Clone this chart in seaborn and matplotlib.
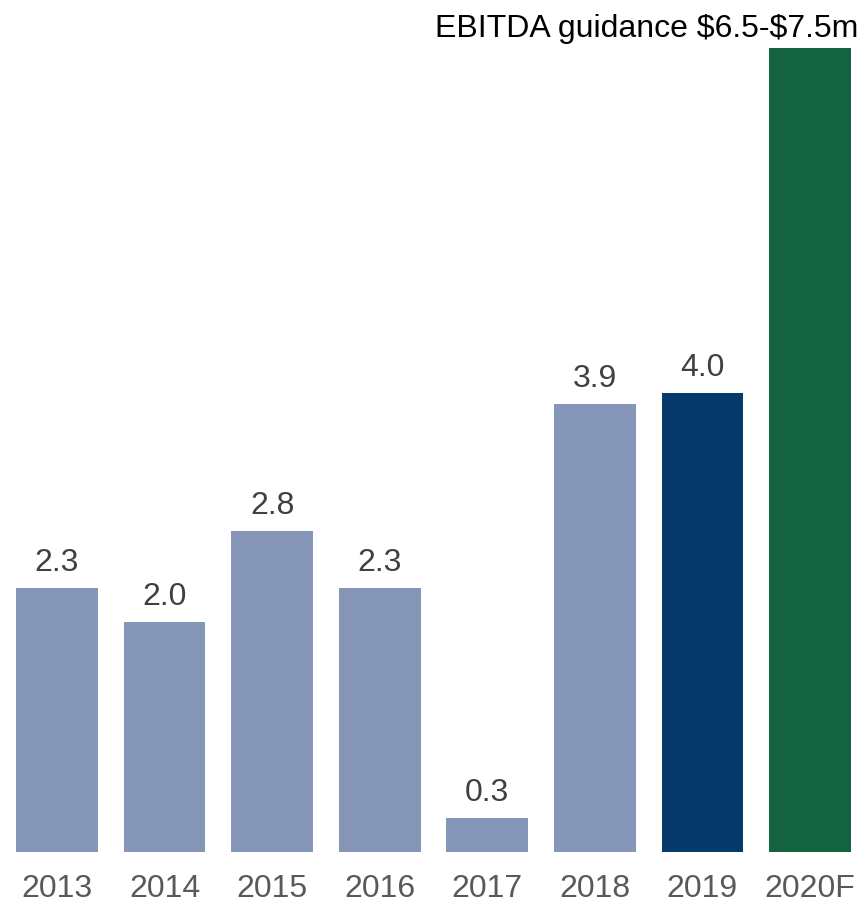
import matplotlib
matplotlib.use("Agg")
import matplotlib.pyplot as plt
import seaborn as sns
import pandas as pd

sns.set_theme(style="white")
plt.rcParams["font.family"] = ["Liberation Sans", "DejaVu Sans"]

# EBITDA by year ($m)
years = ["2013", "2014", "2015", "2016", "2017", "2018", "2019", "2020F"]
ebitda = [2.3, 2.0, 2.8, 2.3, 0.3, 3.9, 4.0, 7.0]
labels = ["2.3", "2.0", "2.8", "2.3", "0.3", "3.9", "4.0", ""]
colors = ["#8596B9"] * 6 + ["#053A6B", "#136240"]
guidance = r"EBITDA guidance \$6.5-\$7.5m"

df = pd.DataFrame({"year": years, "ebitda": ebitda})

W, H = 866, 903
fig = plt.figure(figsize=(W / 100, H / 100), dpi=100)
ax = fig.add_axes([3.2 / W, (H - 853) / H, 860.6 / W, 853 / H])

sns.barplot(data=df, x="year", y="ebitda", hue="year", palette=colors,
            legend=False, width=0.76, saturation=1, linewidth=0, ax=ax)

ax.set_xlim(-0.5, len(years) - 0.5)
ax.set_ylim(0, 853 / 114.8)
ax.set_xlabel("")
ax.set_ylabel("")
ax.set_yticks([])
ax.tick_params(axis="x", length=0, pad=15, labelsize=23, labelcolor="#595959")
for s in ax.spines.values():
    s.set_visible(False)

for i, (v, t) in enumerate(zip(ebitda, labels)):
    if t:
        ax.annotate(t, (i, v), xytext=(0, 13), textcoords="offset points",
                    ha="center", va="baseline", fontsize=23, color="#404040")

fig.text(858 / W, 1 - 37 / H, guidance, ha="right", va="baseline",
         fontsize=23, color="black")

fig.savefig("out.png", dpi=100, facecolor="white")
